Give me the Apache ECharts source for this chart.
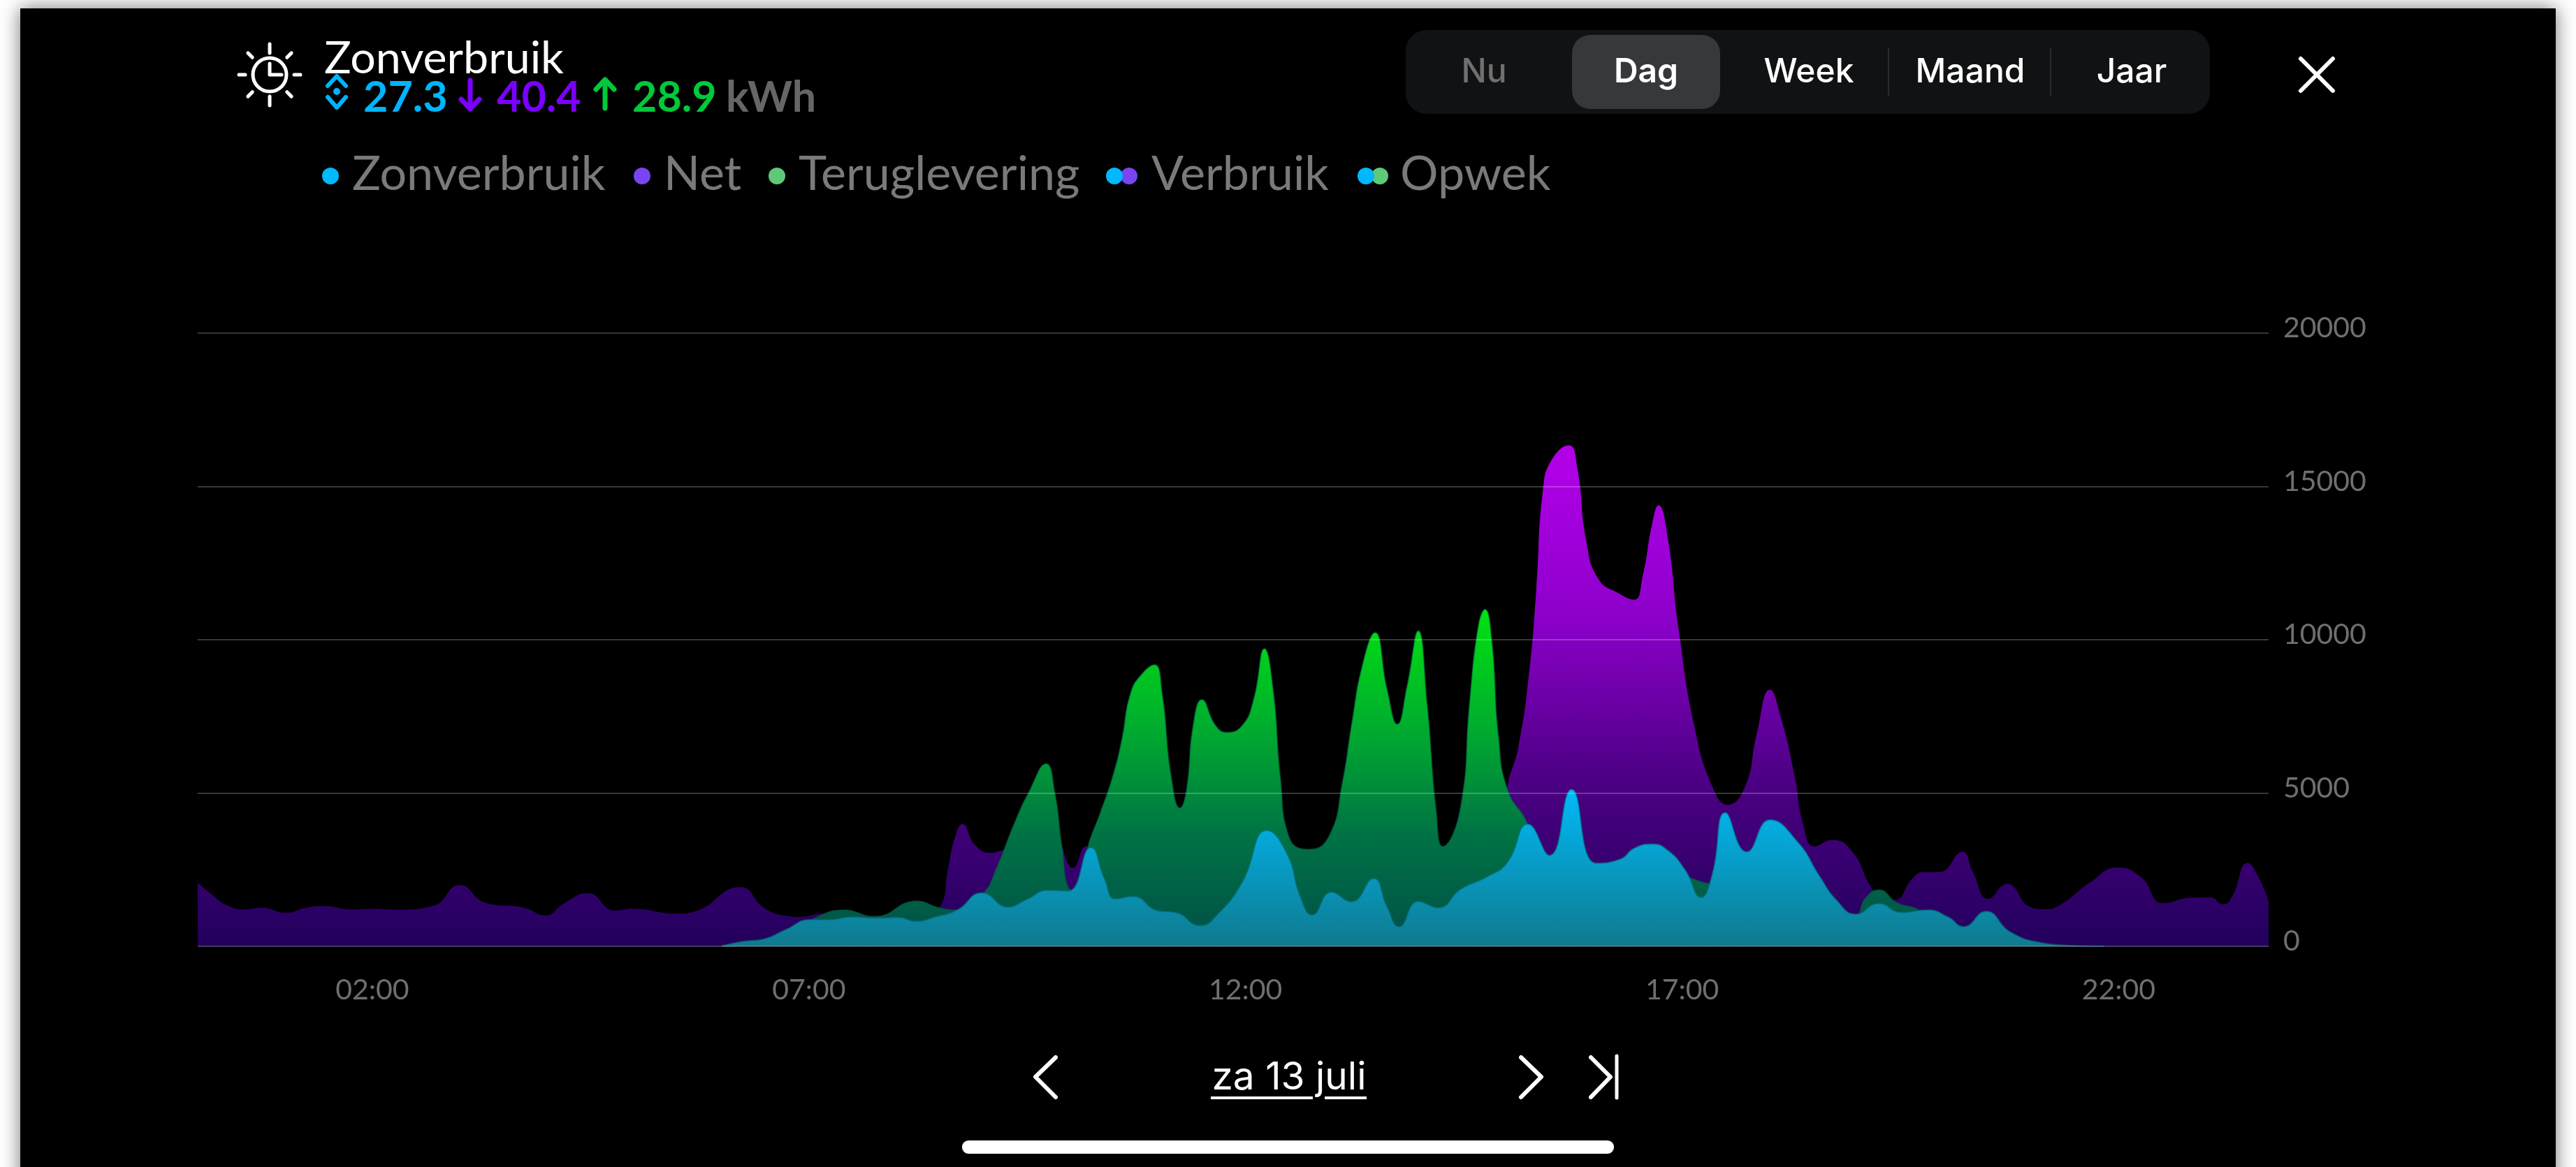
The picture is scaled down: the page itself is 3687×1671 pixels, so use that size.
<!DOCTYPE html>
<html><head><meta charset="utf-8">
<style>
html,body{margin:0;padding:0;width:3687px;height:1671px;background:#fff;overflow:hidden}
#panel{position:absolute;left:29px;top:12px;width:3629px;height:1700px;background:#000;box-shadow:0 0 26px rgba(0,0,0,.55)}
#main{position:absolute;left:0;top:0;width:3687px;height:1671px}
</style>
<script src="https://cdn.jsdelivr.net/npm/echarts@6/dist/echarts.min.js"></script>
</head><body><div id="panel"></div><div id="main"></div>
<script>
// minutes since midnight, and W (top edge of each area)
const netMinutes = [0,11,20,32,44,61,73.5,86,106.5,121,136,162,180,198,224,239,252,268,286.5,299,329,342,373,389,404,413,430,465,494,509.6,515.7,520.3,525.5,534,544.8,554,560,575,587,595,601.5,610.6,620,640,700,800,880,893,900,907.6,915.2,919.8,924.4,930.5,942.3,948,954,962.5,976.3,987,993,999.2,1003.8,1010,1017.6,1028.3,1040.6,1051.3,1063.5,1071,1080.3,1088,1097.2,1103.3,1111,1123.2,1137,1149.2,1155,1166,1178.3,1186,1196.7,1212.6,1219.6,1230.3,1243.2,1259.4,1268.6,1279.3,1300.7,1319,1335.5,1350.4,1370,1382.6,1392,1398,1408.6,1416.2,1423];
const netValues = [2073,1640,1336,1200,1260,1093,1245,1314,1200,1222,1192,1321,1997,1412,1260,1010,1412,1731,1169,1222,1063,1146,1929,1260,995,957,1070,900,1000,1256,2558,3547,3989,3315,3047,3140,2500,2000,4700,3100,2558,3256,2800,1500,1000,1000,1200,3000,5233,6513,9071,11630,14886,15875,16340,15600,13258,11979,11513,11304,12095,13723,14386,13374,10350,7210,5233,4617,5233,6861,8373,7443,5582,3954,3256,3466,3082,1977,1700,1512,2210,2419,2419,3082,2442,1547,2035,1279,1210,1337,2093,2570,2250,1405,1587,1595,1367,1632,2718,2240,1481];
const returnMinutes = [360,400,412,424,444,465,494,509.6,522,540,548,561.7,570.8,583,589,593.8,599,604,612,619.8,629,635,641,649,657.5,662.7,668.8,675,679.5,684,690,699.4,707,717.8,725.4,733,739,743.8,750,763.7,777.5,786.6,792.8,800.4,809,817.3,824.3,831,838.7,844.8,851,855.5,867.8,873.9,880,884.6,889.2,893.8,900,913.7,925,960,1000,1050,1100,1139,1146,1155.3,1167.6,1181.4,1195,1230,1290];
const returnValues = [0,100,550,919,1185,972,1473,1256,1186,1745,2442,4070,5000,5955,5000,3256,1860,1800,3300,4303,5582,6745,8257,8896,9188,8257,5582,4512,5117,7210,8048,7210,6978,7210,8025,9711,8373,5582,3547,3163,3605,5350,7210,9188,10234,8373,7245,8490,10293,7908,4419,3256,4535,7908,10467,10990,10002,6861,5117,4012,2500,2000,2500,2000,2500,1000,1570,1838,1419,1221,800,300,0];
const selfMinutes = [360,375,389,404,420.6,433,450,466,481,494,506.6,522,538.7,557,569,584.6,598,613.7,623,630.5,642.8,659.6,672,688.7,701,717.8,734.6,748.4,757.6,765.8,779,792.8,808,817.3,825.5,838.7,852.5,867.8,886,899.9,914,929,944,961,977.8,987,999.2,1010,1022,1033,1040.6,1049.7,1064.4,1080.3,1100,1114,1126,1139.4,1155,1170.6,1189,1202.8,1213.5,1228.8,1245.6,1267,1288.5,1310];
const selfValues = [15,160,235,540,865,865,957,920,940,814,954,1186,1745,1279,1512,1826,1803,3222,2210,1547,1628,1163,1105,675,1047,2093,3780,3024,1628,1023,1768,1454,2210,1279,640,1465,1256,1861,2268,2733,3989,2966,5117,2710,2850,3198,3338,3140,2500,1593,2326,4361,3082,4129,3373,2326,1512,1047,1396,1105,1186,954,640,1140,465,116,23,0];
const hourTicks = [120,420,720,1020,1320];
const hourLabels = {120:'02:00',420:'07:00',720:'12:00',1020:'17:00',1320:'22:00'};
const legendNames = ['Zonverbruik','Net','Teruglevering','Verbruik','Opwek'];
const modeNames = ['Nu','Dag','Week','Maand','Jaar'];
const titleText = 'Zonverbruik';
const dateText = 'za 13 juli';
const totals = ['27.3','40.4','28.9','kWh'];

const pairs = (a,b)=>a.map((t,i)=>[t,b[i]]);
const LATO='Lato, sans-serif', UI='Inter, Roboto, sans-serif';
const grad=(stops)=>({type:'linear',x:0,y:0,x2:0,y2:1,colorStops:stops.map((c,i)=>({offset:i/(stops.length-1),color:c}))});

function txt(t,x,y,size,fill,font,align,weight){
  return {type:'text',silent:true,style:{text:t,x,y,fill,align:align||'left',verticalAlign:'middle',font:(weight||400)+' '+size+'px '+(font||LATO)}};
}
function pl(points,stroke,w){
  return {type:'polyline',silent:true,shape:{points},style:{stroke,fill:null,lineWidth:w,lineCap:'round',lineJoin:'round'}};
}
function dot(cx,cy,fill,r){return {type:'circle',silent:true,shape:{cx,cy,r:r||12},style:{fill}};}
function rr(x,y,w,h,r,fill){return {type:'rect',silent:true,shape:{x,y,width:w,height:h,r},style:{fill}};}

const BLUE='#00b4ff',VIO='#7b00ff',GRN='#00c93a';
const g=[];
// sun + clock icon
const cx=386,cy=107;
g.push({type:'circle',silent:true,shape:{cx,cy,r:24},style:{stroke:'#fff',fill:null,lineWidth:5}});
g.push(pl([[cx,cy-16],[cx,cy],[cx+17,cy]],'#fff',5));
for(let i=0;i<8;i++){const a=i*Math.PI/4,r1=i%4==0?31:35,r2=44;
  g.push(pl([[cx+Math.sin(a)*r1,cy-Math.cos(a)*r1],[cx+Math.sin(a)*r2,cy-Math.cos(a)*r2]],'#fff',5));}
// title and totals
g.push(txt(titleText,464,84,64.5,'#fff'));
g.push(pl([[469,123],[482,109],[495,123]],BLUE,6));
g.push(dot(482,131,BLUE,5));
g.push(pl([[469,139],[482,154],[495,139]],BLUE,6));
g.push(txt(totals[0],520,140,61,BLUE,LATO,'left',700));
g.push(pl([[673,115],[673,155]],VIO,7));g.push(pl([[660,142],[673,156],[686,142]],VIO,7));
g.push(txt(totals[1],711,140,61,VIO,LATO,'left',700));
g.push(pl([[866,115],[866,155]],GRN,7));g.push(pl([[853,128],[866,114],[879,128]],GRN,7));
g.push(txt(totals[2],905,140,61,GRN,LATO,'left',700));
g.push(txt(totals[3],1039,140,61,'#666',LATO,'left',700));
// legend
const LG='#7a7a7a',LB='#00b8ff',LP='#7a45f0',LN='#5fc97a';
g.push(dot(473,252,LB),txt(legendNames[0],504,250,68.2,LG));
g.push(dot(919,252,LP),txt(legendNames[1],950,250,68.2,LG));
g.push(dot(1112,252,LN),txt(legendNames[2],1143,250,68.2,LG));
g.push(dot(1616,252,LP),dot(1595,252,LB),txt(legendNames[3],1648,250,68.2,LG));
g.push(dot(1975,252,LN),dot(1955,252,LB),txt(legendNames[4],2004,250,68.2,LG));
// mode switch
g.push(rr(2012,43,1151,120,30,'#111213'));
g.push(rr(2250,50,212,106,26,'#36383c'));
g.push({type:'line',silent:true,shape:{x1:2703,y1:69,x2:2703,y2:137},style:{stroke:'#2a2a2a',lineWidth:2}});
g.push({type:'line',silent:true,shape:{x1:2935,y1:69,x2:2935,y2:137},style:{stroke:'#2a2a2a',lineWidth:2}});
[2124,2356,2589,2820,3051].forEach((x,i)=>{
  g.push(txt(modeNames[i],x,104,48,i==0?'#707070':'#fff',UI,'center',i==1?600:500));
});
// close
g.push(pl([[3293,84],[3339,130]],'#fff',6),pl([[3339,84],[3293,130]],'#fff',6));
// date navigation
g.push(pl([[1511,1514],[1482,1542],[1511,1571]],'#fff',6));
g.push(txt(dateText,1845,1543,55,'#fff',UI,'center',400));
g.push(rr(1733,1570,146,4,0,'#fff'),rr(1896,1570,60,4,0,'#fff'));
g.push(pl([[2177,1514],[2206,1542],[2177,1571]],'#fff',6));
g.push(pl([[2277,1514],[2305,1542],[2277,1571]],'#fff',6));
g.push(pl([[2314,1512],[2314,1572]],'#fff',5));
// home bar
g.push(rr(1377,1633,933,19,9,'#fff'));

const chart=echarts.init(document.getElementById('main'),null,{renderer:'canvas',width:3687,height:1671});
chart.setOption({
  animation:false,
  backgroundColor:'transparent',
  grid:{left:283,right:440,top:477,bottom:316,containLabel:false},
  xAxis:{type:'value',min:0,max:1423,
    axisLine:{show:false},axisTick:{show:false},splitLine:{show:false},
    axisLabel:{customValues:hourTicks,formatter:v=>hourLabels[v]||'',color:'#6f6f6f',fontFamily:'Lato',fontSize:41,margin:42,showMinLabel:true,showMaxLabel:true}},
  yAxis:{type:'value',position:'right',min:0,max:20000,interval:5000,z:8,
    axisLine:{show:false},axisTick:{show:false},
    splitLine:{show:true,lineStyle:{color:'rgba(255,255,255,.22)',width:2}},
    axisLabel:{color:'#6f6f6f',fontFamily:'Lato',fontSize:41,margin:21,align:'left',verticalAlign:'bottom',lineHeight:14,formatter:v=>String(v)}},
  graphic:{elements:g},
  series:[
    {name:legendNames[1],type:'line',z:3,smooth:0.5,showSymbol:false,silent:true,
     data:pairs(netMinutes,netValues),
     lineStyle:{width:0},
     areaStyle:{opacity:1,color:grad(['#b400ea','#8e00cc','#4c0084','#22005c'])}},
    {name:legendNames[2],type:'line',z:4,smooth:0.5,showSymbol:false,silent:true,
     data:pairs(returnMinutes,returnValues),
     lineStyle:{width:2,color:'rgba(0,90,70,.45)'},
     areaStyle:{opacity:1,color:grad(['#00e40e','#00af2d','#007344','#004e48'])}},
    {name:legendNames[0],type:'line',z:5,smooth:0.5,showSymbol:false,silent:true,
     data:pairs(selfMinutes,selfValues),
     lineStyle:{width:2,color:'rgba(0,110,120,.55)'},
     areaStyle:{opacity:1,color:grad(['#00baf8','#0f7a8e'])}}
  ]
});
</script></body></html>
